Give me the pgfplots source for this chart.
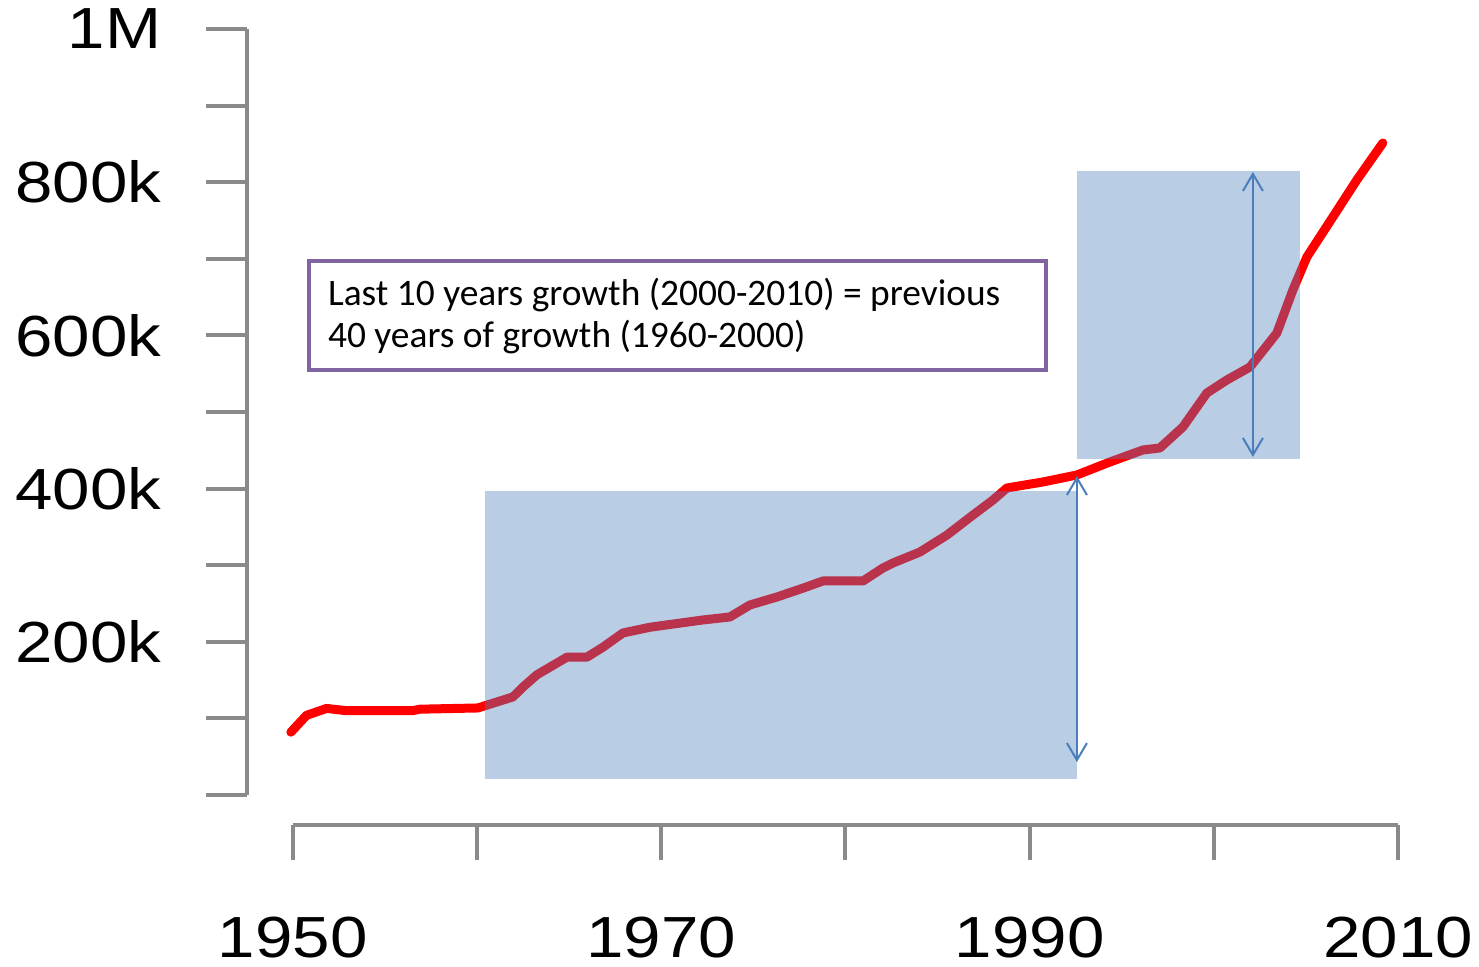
\documentclass[border=0pt]{standalone}
\usepackage{pgfplots}
\pgfplotsset{compat=1.18}
\usepackage{fontspec}
\setmainfont{Liberation Sans}
\newfontfamily\calibri{Carlito}
\usetikzlibrary{arrows.meta}
\definecolor{axgray}{RGB}{138,138,138}
\definecolor{boxblue}{RGB}{79,129,189}
\definecolor{arrblue}{RGB}{74,126,187}
\definecolor{boxpurple}{RGB}{128,100,162}
\begin{document}
\begin{tikzpicture}
\begin{axis}[
  scale only axis, width=552.8pt, height=383pt,
  xmin=1950, xmax=2010, ymin=0, ymax=1000,
  clip=false,
  axis lines*=left,
  axis x line shift=15pt,
  axis y line shift=22.85pt,
  axis line style={axgray, line width=2pt},
  tick align=outside,
  major tick length=20.5pt,
  tick style={axgray, line width=2pt},
  xtick=\empty,
  extra x ticks={1950,1960,1970,1980,1990,2000,2010},
  extra x tick labels={1950,,1970,,1990,,2010},
  extra x tick style={major tick length=17.5pt, xticklabel style={yshift=-28.5pt}},
  ytick={0,100,200,300,400,500,600,700,800,900,1000},
  yticklabels={,,200k,,400k,,600k,,800k,,1M},
  tick label style={font=\fontsize{29}{34}\selectfont, xscale=1.16, inner sep=0pt},
  yticklabel style={xshift=-19pt},
]
\coordinate (O) at (axis cs:1950,0);
\addplot[red, line width=4.5pt, line join=round, line cap=round] coordinates {
(1949.9,82) (1950.75,104) (1951.84,113) (1952.93,110) (1956.5,110) (1956.9,112)
(1960.05,113.6) (1961.95,128) (1962.5,141) (1963.26,157) (1964.89,180) (1965.97,180)
(1966.84,193) (1967.92,211.5) (1969.39,219) (1972.26,228.5) (1973.73,232.4) (1974.81,248)
(1976.28,258.5) (1977.69,270) (1978.78,279.4) (1980.95,279.4) (1982.03,296.3) (1982.58,302.9)
(1984.04,317.2) (1985.51,339.4) (1986.92,365.5) (1988.0,385) (1988.76,400.8) (1990.71,408.6)
(1992.56,417.8) (1994.35,434.7) (1996.14,450.4) (1997.06,453) (1998.31,480.4) (1999.61,524.8)
(2000.7,541.8) (2001.95,558.7) (2003.41,603.1) (2004.28,659.3) (2005.04,702.4) (2006.45,754.6)
(2007.75,802.9) (2009.16,851.2)};
\fill[boxblue, fill opacity=0.4] (axis cs:1960.43,20.9) rectangle (axis cs:1992.56,396.9);
\fill[boxblue, fill opacity=0.4] (axis cs:1992.56,438.6) rectangle (axis cs:2004.69,814.6);
\draw[arrblue, line width=1pt, {Straight Barb[length=8.5pt,width=10pt]}-{Straight Barb[length=8.5pt,width=10pt]}] (axis cs:1992.56,43) -- (axis cs:1992.56,416.4);
\draw[arrblue, line width=1pt, {Straight Barb[length=8.5pt,width=10pt]}-{Straight Barb[length=8.5pt,width=10pt]}] (axis cs:2002.11,441.3) -- (axis cs:2002.11,813.3);
\draw[boxpurple, line width=2pt] (axis cs:1950.88,697.1) rectangle (axis cs:1990.87,554.8);
\node[anchor=base west, inner sep=0pt, font=\calibri\fontsize{18.7}{22}\selectfont] at (axis cs:1951.9,638.5) {Last 10 years growth (2000-2010) = previous};
\node[anchor=base west, inner sep=0pt, font=\calibri\fontsize{18.7}{22}\selectfont] at (axis cs:1951.9,584.5) {40 years of growth (1960-2000)};
\end{axis}
\pgfresetboundingbox
\path[use as bounding box] ([shift={(-146.35pt,-86pt)}]O) rectangle ([shift={(593.15pt,397.5pt)}]O);
\end{tikzpicture}
\end{document}
